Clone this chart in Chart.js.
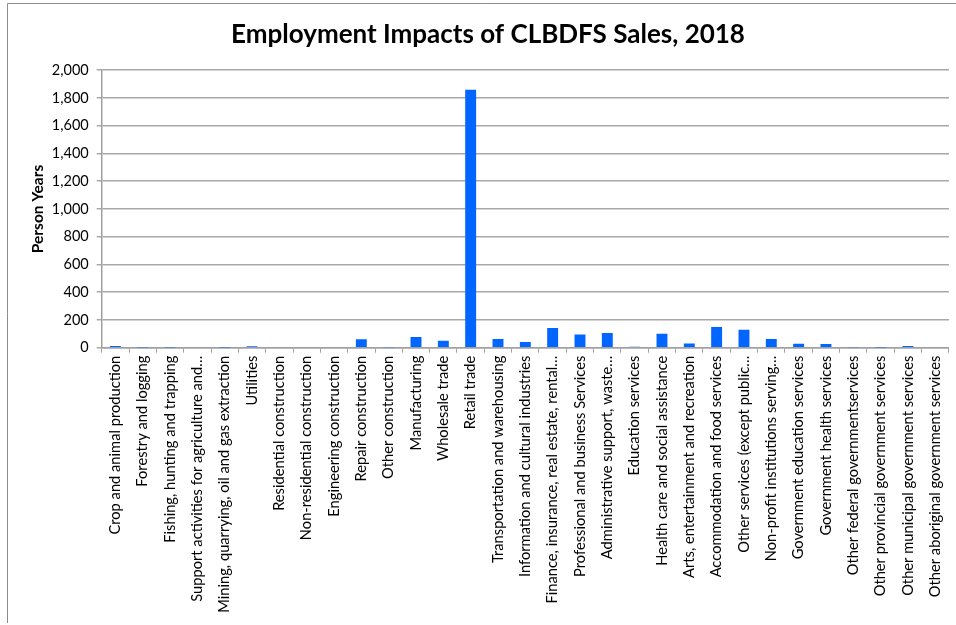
<!DOCTYPE html>
<html>
<head>
<meta charset="utf-8">
<script src="https://cdn.jsdelivr.net/npm/chart.js@4"></script>
<style>
  html, body { margin: 0; padding: 0; background: #fff; }
  #wrap { width: 956px; height: 625px; position: relative; }
</style>
</head>
<body>
<div id="wrap"><canvas id="impactChart" width="956" height="625"></canvas></div>
<script>
// industries as shown on the axis (long names cut short like the sheet does)
const industries = [
  "Crop and animal production",
  "Forestry and logging",
  "Fishing, hunting and trapping",
  "Support activities for agriculture and\u2026",
  "Mining, quarrying, oil and gas extraction",
  "Utilities",
  "Residential construction",
  "Non-residential construction",
  "Engineering construction",
  "Repair construction",
  "Other construction",
  "Manufacturing",
  "Wholesale trade",
  "Retail trade",
  "Transportation and warehousing",
  "Information and cultural industries",
  "Finance, insurance, real estate, rental\u2026",
  "Professional and business Services",
  "Administrative support, waste\u2026",
  "Education services",
  "Health care and social assistance",
  "Arts, entertainment and recreation",
  "Accommodation and food services",
  "Other services (except public\u2026",
  "Non-profit institutions serving\u2026",
  "Government education services",
  "Government health services",
  "Other federal governmentservices",
  "Other provincial government services",
  "Other municipal government services",
  "Other aboriginal government services"
];

// person years per industry
const personYears = [
  12, 1, 2, 0, 2, 11, 0, 0, 0, 61, 4, 77, 50, 1860, 62, 41,
  142, 96, 106, 6, 101, 31, 149, 130, 63, 29, 26, 3, 1, 13, 0
];

const yMin = 0;
const yMax = 2000;
const yStep = 200;

// thin outline round the whole chart box
const frame = {
  id: "frame",
  beforeDraw(chart) {
    const c = chart.ctx;
    c.save();
    c.strokeStyle = "#8c8c8c";
    c.lineWidth = 1;
    c.beginPath();
    c.moveTo(7.5, 623);
    c.lineTo(7.5, 3.5);
    c.lineTo(956, 3.5);
    c.stroke();
    c.restore();
  }
};

const ctx = document.getElementById("impactChart").getContext("2d");

new Chart(ctx, {
  type: "bar",
  data: {
    labels: industries,
    datasets: [{
      label: "Person Years",
      data: personYears,
      backgroundColor: "#0066ff",
      borderWidth: 0,
      categoryPercentage: 1,
      barPercentage: 0.4
    }]
  },
  options: {
    responsive: false,
    animation: false,
    layout: { padding: { left: 25, right: 5, top: 0, bottom: 0 } },
    plugins: {
      legend: { display: false },
      tooltip: { enabled: false },
      title: {
        display: true,
        text: "Employment Impacts of CLBDFS Sales, 2018",
        color: "#000",
        font: { family: "Lato", size: 26, weight: "bold" },
        padding: { top: 19, bottom: 20 }
      }
    },
    scales: {
      x: {
        grid: {
          offset: true,
          drawOnChartArea: false,
          drawTicks: true,
          tickLength: 5,
          color: "#a0a0a0"
        },
        border: { color: "#a0a0a0", width: 1.5 },
        ticks: {
          autoSkip: false,
          minRotation: 90,
          maxRotation: 90,
          padding: 3,
          color: "#000",
          font: { family: "Lato", size: 14.7 }
        },
        afterFit: s => { s.height = 625 - 347.7; }
      },
      y: {
        min: yMin,
        max: yMax,
        grid: { color: "#a8a8a8", lineWidth: 1.5, tickLength: 5 },
        border: { color: "#a0a0a0", width: 1.5 },
        ticks: {
          stepSize: yStep,
          padding: 8,
          color: "#000",
          font: { family: "Lato", size: 14.5 },
          callback: v => v.toLocaleString("en-US")
        },
        title: {
          display: true,
          text: "Person Years",
          color: "#000",
          font: { family: "Lato", size: 15.5, weight: "bold" },
          padding: { top: 4, bottom: 0 }
        },
        afterFit: s => { s.width = 101.7 - 25; }
      }
    }
  },
  plugins: [frame]
});
</script>
</body>
</html>
